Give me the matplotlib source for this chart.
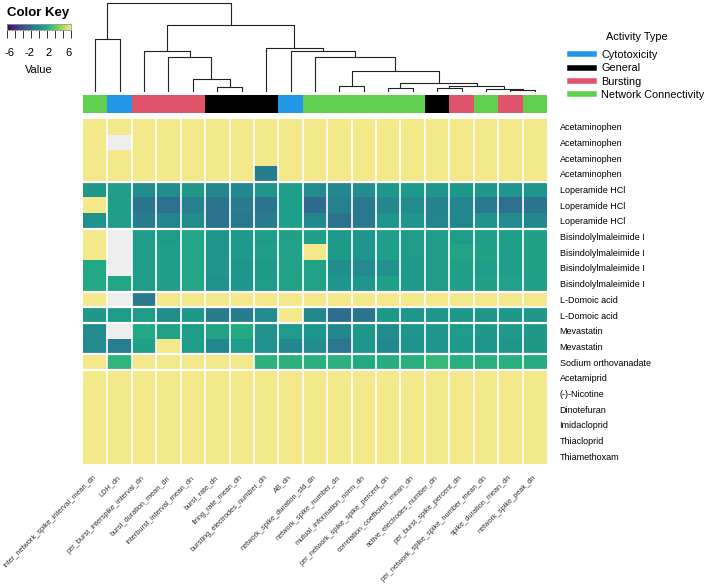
import matplotlib
matplotlib.use("Agg")
import matplotlib.pyplot as plt
import numpy as np
from matplotlib.colors import LinearSegmentedColormap, ListedColormap, Normalize
from matplotlib.lines import Line2D
from matplotlib.cm import ScalarMappable

plt.rcParams["font.family"] = ["Liberation Sans", "DejaVu Sans"]
plt.rcParams["axes.unicode_minus"] = False

Y = 6.0
N = np.nan

columns = [
    "inter_network_spike_interval_mean_dn", "LDH_dn", "per_burst_interspike_interval_dn",
    "burst_duration_mean_dn", "interburst_interval_mean_dn", "burst_rate_dn",
    "firing_rate_mean_dn", "bursting_electrodes_number_dn", "AB_dn",
    "network_spike_duration_std_dn", "network_spike_number_dn", "mutual_information_norm_dn",
    "per_network_spike_spike_percent_dn", "correlation_coefficient_mean_dn",
    "active_electrodes_number_dn", "per_burst_spike_percent_dn",
    "per_network_spike_spike_number_mean_dn", "spike_duration_mean_dn", "network_spike_peak_dn",
]

activity = [
    "Network Connectivity", "Cytotoxicity", "Bursting", "Bursting", "Bursting",
    "General", "General", "General", "Cytotoxicity",
    "Network Connectivity", "Network Connectivity", "Network Connectivity",
    "Network Connectivity", "Network Connectivity", "General", "Bursting",
    "Network Connectivity", "Bursting", "Network Connectivity",
]

activity_types = ["Cytotoxicity", "General", "Bursting", "Network Connectivity"]
activity_colors = ["#2297E6", "black", "#DF536B", "#61D04F"]

compounds = [
    "Acetaminophen", "Acetaminophen", "Acetaminophen", "Acetaminophen",
    "Loperamide HCl", "Loperamide HCl", "Loperamide HCl",
    "Bisindolylmaleimide I", "Bisindolylmaleimide I", "Bisindolylmaleimide I", "Bisindolylmaleimide I",
    "L-Domoic acid", "L-Domoic acid", "Mevastatin", "Mevastatin", "Sodium orthovanadate",
    "Acetamiprid", "(-)-Nicotine", "Dinotefuran", "Imidacloprid", "Thiacloprid", "Thiamethoxam",
]

# row splits (after these rows a white gap is drawn)
row_breaks = [4, 7, 11, 12, 13, 15, 16]

values = np.array([
    [Y] * 19,
    [Y, N] + [Y] * 17,
    [Y] * 19,
    [Y] * 7 + [-1.0] + [Y] * 11,
    [0.4, 0.7, -0.2, -0.1, 0.4, -0.4, -0.4, 0.2, 0.7, -0.3, -0.4, -0.1, 0.4, 0.5, 0.2, 0.4, 0.4, 0.2, 0.3],
    [Y, 0.7, -1.4, -1.6, -0.8, -1.4, -1.0, -1.4, 0.7, -1.8, -0.8, -1.2, -0.5, -0.3, -0.7, -0.6, -1.2, -1.6, -1.4],
    [0.0, 0.7, -1.0, -0.6, -0.2, -1.5, -1.2, -1.0, 0.7, -0.4, -1.5, -1.2, 0.2, 0.2, -0.6, -0.4, 0.1, -0.3, -0.4],
    [Y, N, 0.6, 0.6, 1.1, 0.3, 0.5, 0.6, 0.8, 0.7, 0.5, 0.3, 0.7, 0.6, 0.6, 0.6, 0.7, 0.7, 0.8],
    [Y, N, 0.6, 0.7, 1.1, 0.3, 0.5, 0.7, 0.9, Y, 0.5, 0.3, 0.7, 0.6, 0.6, 1.0, 0.8, 0.7, 0.8],
    [1.2, N, 0.6, 0.7, 1.1, 0.2, 0.3, 0.5, 0.9, 0.9, -0.1, -0.3, 0.0, 0.5, 0.6, 0.8, 0.6, 0.7, 0.8],
    [1.2, 1.1, 0.6, 0.7, 1.1, 0.0, 0.2, 0.6, 0.9, 0.9, 0.3, 0.2, 0.8, 0.5, 0.6, 0.8, 0.8, 0.9, 0.8],
    [Y, N, -1.0] + [Y] * 16,
    [0.4, 0.6, 0.6, -0.2, 0.4, -1.0, -1.0, -0.3, Y, -0.4, -1.7, -1.4, 0.4, 0.2, 0.3, 0.4, 0.4, 0.4, 0.4],
    [-0.3, N, 1.2, 0.9, 0.6, 0.9, 1.3, 0.0, 0.6, 0.3, -0.4, 0.4, -0.2, 0.2, 0.3, 0.6, 0.4, 0.5, 0.4],
    [-0.3, -0.9, 0.8, Y, 0.6, -0.4, 0.6, 0.0, -0.5, -0.1, -1.3, 0.3, -0.4, 0.1, 0.2, 0.5, 0.3, 0.3, 0.4],
    [Y, 1.8, Y, Y, Y, Y, Y, 1.6, 1.6, 1.5, 1.6, 1.3, 1.4, 1.5, 2.0, 1.5, 1.5, 1.5, 1.4],
    [Y] * 19,
    [Y] * 19,
    [Y] * 19,
    [Y] * 19,
    [Y] * 19,
    [Y] * 19,
])

# column dendrogram merges: (left, right, height); new node ids start at 19
merges = [
    (5, 6, 4.7), (4, 19, 13.3), (3, 20, 34.7), (2, 21, 41.0), (0, 1, 52.7),
    (17, 18, 2.0), (16, 24, 3.3), (14, 15, 3.7), (26, 25, 6.0), (12, 13, 3.7),
    (28, 27, 9.3), (10, 11, 6.3), (30, 29, 21.0), (9, 31, 35.0), (8, 32, 41.5),
    (7, 33, 44.3), (22, 34, 67.0), (23, 35, 89.3),
]


def make_cmap():
    """ viridis with a pale yellow top end """
    vir = plt.get_cmap("viridis")
    pos = list(np.linspace(0, 0.8, 17)) + [1.0]
    cols = [vir(p) for p in pos[:-1]] + ["#F3E88A"]
    cmap = LinearSegmentedColormap.from_list("key", list(zip(pos, cols)))
    cmap.set_bad("#EEEEEE")
    return cmap


def draw_dendrogram(ax, n_leaves, merges):
    xpos = {i: i + 0.5 for i in range(n_leaves)}
    hpos = {i: 0.0 for i in range(n_leaves)}
    for k, (a, b, h) in enumerate(merges):
        node = n_leaves + k
        ax.plot([xpos[a], xpos[a], xpos[b], xpos[b]], [hpos[a], h, h, hpos[b]],
                color="#222222", lw=0.8)
        xpos[node] = 0.5 * (xpos[a] + xpos[b])
        hpos[node] = h
    ax.set_xlim(0, n_leaves)
    ax.set_ylim(0, 90)
    ax.axis("off")


def main():
    cmap = make_cmap()
    norm = Normalize(-6, 6)
    nrow, ncol = values.shape

    fig = plt.figure(figsize=(7.09, 5.86), dpi=100)
    W, H = 709.0, 586.0
    x0, x1 = 83, 547

    # heatmap
    ax = fig.add_axes([x0 / W, 1 - 464 / H, (x1 - x0) / W, 345 / H])
    ax.pcolormesh(np.ma.masked_invalid(values), cmap=cmap, norm=norm)
    ax.set_xlim(0, ncol)
    ax.set_ylim(nrow, 0)
    for c in range(1, ncol):
        ax.axvline(c, color="white", lw=1.2)
    for r in row_breaks:
        ax.axhline(r, color="white", lw=1.6)
    for s in ax.spines.values():
        s.set_visible(False)
    ax.yaxis.tick_right()
    ax.set_yticks(np.arange(nrow) + 0.5)
    ax.set_yticklabels(compounds, fontsize=6.5)
    ax.set_xticks(np.arange(ncol) + 0.5)
    ax.set_xticklabels(columns, fontsize=5.3, color="#333333")
    ax.tick_params(axis="y", length=0, pad=9)
    ax.tick_params(axis="x", length=0, pad=9)
    plt.setp(ax.get_xticklabels(), rotation=45, ha="right", va="center",
             rotation_mode="anchor")

    # activity annotation bar
    bar = fig.add_axes([x0 / W, 1 - 113 / H, (x1 - x0) / W, 18 / H])
    codes = np.array([[activity_types.index(a) for a in activity]])
    bar.pcolormesh(codes, cmap=ListedColormap(activity_colors), vmin=-0.5, vmax=3.5)
    bar.set_xlim(0, ncol)
    bar.axis("off")

    # dendrogram
    dax = fig.add_axes([x0 / W, 1 - 92 / H, (x1 - x0) / W, 90 / H])
    draw_dendrogram(dax, ncol, merges)

    # legend
    handles = [Line2D([], [], color=c, lw=4) for c in activity_colors]
    leg = fig.legend(handles, activity_types, loc="upper left",
                     bbox_to_anchor=(560 / W, 1 - 22 / H), frameon=False,
                     fontsize=7.8, title="Activity Type", title_fontsize=7.8,
                     handlelength=2.2, labelspacing=0.3, handletextpad=0.7)
    leg._legend_box.sep = 6

    # color key
    fig.text(38 / W, 1 - 13 / H, "Color Key", fontsize=9.5, fontweight="bold",
             ha="center", va="center")
    key_norm = Normalize(-6.6, 6.6)
    cax = fig.add_axes([7 / W, 1 - 30 / H, 64 / W, 6 / H])
    cb = fig.colorbar(ScalarMappable(norm=key_norm, cmap=cmap), cax=cax,
                      orientation="horizontal")
    cb.outline.set_edgecolor("#999999")
    cb.outline.set_linewidth(0.6)
    cax.set_xticks([-6, -2, 2, 6])
    cax.set_xticks(np.linspace(-6.6, 6.6, 9), minor=True)
    cax.tick_params(axis="x", which="major", length=0, pad=13, labelsize=8)
    cax.tick_params(axis="x", which="minor", length=6, width=0.7, color="#333333")
    cax.set_xlabel("Value", fontsize=8, labelpad=5)

    fig.savefig("out.png", dpi=100)


if __name__ == "__main__":
    main()
